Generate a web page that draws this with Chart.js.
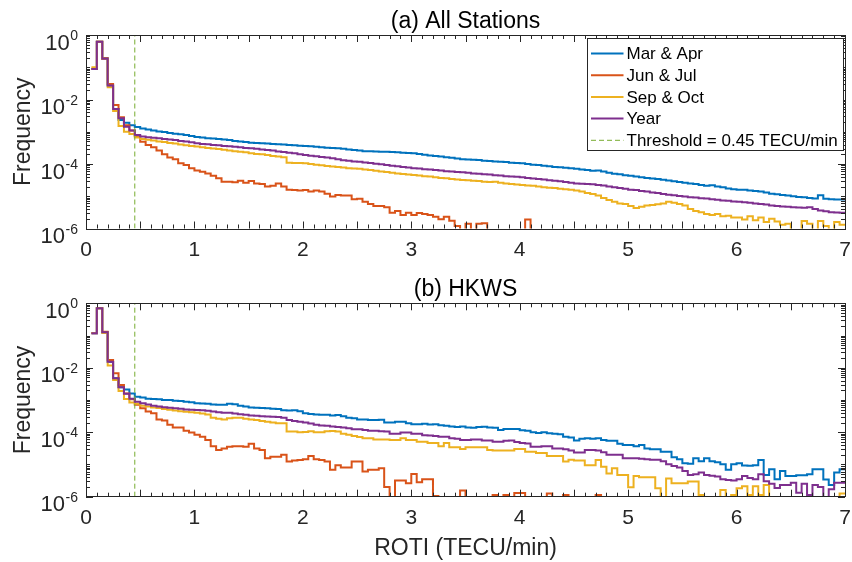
<!DOCTYPE html>
<html>
<head>
<meta charset="utf-8">
<title>ROTI frequency</title>
<script src="https://cdn.jsdelivr.net/npm/chart.js@4"></script>
<style>
  body { margin: 0; background: #fff; }
  #wrap { position: relative; width: 852px; height: 562px; }
  canvas { position: absolute; left: 0; }
</style>
</head>
<body>
<div id="wrap">
  <canvas id="chartA" width="852" height="270" style="top:0"></canvas>
  <canvas id="chartB" width="852" height="292" style="top:270px"></canvas>
</div>
<script>
// histogram bins of 0.05 TECU/min, first bin starts at 0.05, last one ends at 7
const binWidth = 0.05;
const firstEdge = 0.05;
const seriesNames = ['Mar & Apr', 'Jun & Jul', 'Sep & Oct', 'Year'];
const seriesColors = ['#0072BD', '#D95319', '#EDB120', '#7E2F8E'];
const threshold = 0.45;
const yTickExponents = [0, -2, -4, -6];
const xTickLabels = [0, 1, 2, 3, 4, 5, 6, 7];

// (a) All Stations
const allMarApr = [0.089, 0.62, 0.19, 0.027, 0.0051, 0.0023, 0.0019, 0.0016, 0.0014,
  1.26e-3, 1.17e-3, 1.1e-3, 1.02e-3, 9.8e-4, 9.1e-4, 8.7e-4, 8.3e-4, 7.9e-4, 7.4e-4,
  6.9e-4, 6.6e-4, 6.3e-4, 6.2e-4, 6.0e-4, 5.8e-4, 5.5e-4, 5.2e-4, 5.0e-4, 4.8e-4,
  4.6e-4, 4.5e-4, 4.4e-4, 4.3e-4, 4.2e-4, 4.1e-4, 4.0e-4, 3.9e-4, 3.8e-4, 3.7e-4,
  3.6e-4, 3.55e-4, 3.4e-4, 3.3e-4, 3.2e-4, 3.15e-4, 3.1e-4, 2.95e-4, 2.8e-4, 2.7e-4,
  2.6e-4, 2.5e-4, 2.5e-4, 2.45e-4, 2.4e-4, 2.4e-4, 2.35e-4, 2.3e-4, 2.25e-4, 2.2e-4,
  2.15e-4, 2.05e-4, 1.95e-4, 1.85e-4, 1.78e-4, 1.7e-4, 1.62e-4, 1.55e-4, 1.48e-4, 1.41e-4,
  1.38e-4, 1.35e-4, 1.32e-4, 1.26e-4, 1.23e-4, 1.2e-4, 1.17e-4, 1.15e-4, 1.1e-4, 1.07e-4,
  1.05e-4, 1.0e-4, 9.5e-5, 9.3e-5, 8.9e-5, 8.5e-5, 8.1e-5, 7.9e-5, 7.6e-5, 7.4e-5,
  7.1e-5, 6.8e-5, 6.5e-5, 6.2e-5, 6.3e-5, 5.9e-5, 5.4e-5, 5.0e-5, 4.8e-5, 4.5e-5,
  4.3e-5, 4.1e-5, 3.9e-5, 3.7e-5, 3.55e-5, 3.4e-5, 3.25e-5, 3.1e-5, 2.9e-5, 2.75e-5,
  2.6e-5, 2.5e-5, 2.4e-5, 2.25e-5, 2.1e-5, 2.2e-5, 2.0e-5, 1.9e-5, 1.75e-5, 1.65e-5,
  1.6e-5, 1.6e-5, 1.5e-5, 1.45e-5, 1.4e-5, 1.3e-5, 1.2e-5, 1.15e-5, 1.1e-5, 1.05e-5,
  1.0e-5, 9.5e-6, 9.3e-6, 8.9e-6, 8.5e-6, 1.07e-5, 8.3e-6, 8.1e-6, 7.9e-6, 7.9e-6];
const allJunJul = [0.09, 0.62, 0.19, 0.030, 0.0068, 0.0028, 0.0016, 0.0011, 0.00074,
  4.9e-4, 3.9e-4, 3.3e-4, 2.6e-4, 2.0e-4, 1.6e-4, 1.4e-4, 1.05e-4, 9.3e-5, 7.4e-5,
  6.3e-5, 5.8e-5, 5.1e-5, 4.3e-5, 3.6e-5, 2.8e-5, 2.8e-5, 2.7e-5, 3.0e-5, 2.6e-5,
  2.95e-5, 2.5e-5, 2.4e-5, 2.0e-5, 2.1e-5, 2.5e-5, 2.0e-5, 1.6e-5, 1.55e-5, 1.5e-5,
  1.55e-5, 1.4e-5, 1.5e-5, 1.4e-5, 1.2e-5, 9.8e-6, 1.1e-5, 1.05e-5, 1.05e-5, 8.1e-6,
  8.3e-6, 6.8e-6, 5.8e-6, 5.0e-6, 5.0e-6, 4.6e-6, 3.1e-6, 3.5e-6, 2.6e-6, 3.1e-6,
  2.6e-6, 3.0e-6, 2.8e-6, 2.6e-6, 2.3e-6, 1.95e-6, 2.3e-6, 1.74e-6, 1.2e-6, 0,
  1.4e-6, 0, 1.4e-6, 1.45e-6, 0, 0, 0, 0, 0, 0,
  0, 1.9e-6, 0, 0, 0, 0, 0, 0, 0, 0,
  0, 0, 0, 0, 0, 0, 0, 0, 0, 0,
  0, 0, 0, 0, 0, 0, 0, 0, 0, 0,
  0, 0, 0, 0, 0, 0, 0, 0, 0, 0,
  0, 0, 0, 0, 0, 0, 0, 0, 0, 0,
  0, 0, 0, 0, 0, 0, 0, 0, 0, 0];
const allSepOct = [0.1, 0.62, 0.18, 0.024, 0.0044, 0.0015, 0.001, 0.00085, 0.00066,
  6.0e-4, 5.6e-4, 5.4e-4, 5.0e-4, 4.8e-4, 4.5e-4, 4.3e-4, 4.0e-4, 3.8e-4, 3.6e-4,
  3.5e-4, 3.3e-4, 3.15e-4, 3.0e-4, 2.9e-4, 2.75e-4, 2.6e-4, 2.5e-4, 2.4e-4, 2.3e-4,
  2.15e-4, 2.05e-4, 2.0e-4, 1.9e-4, 1.78e-4, 1.7e-4, 1.62e-4, 1.1e-4, 1.07e-4, 1.07e-4,
  1.05e-4, 1.0e-4, 9.5e-5, 9.1e-5, 8.7e-5, 8.3e-5, 8.1e-5, 7.8e-5, 7.4e-5, 7.2e-5,
  7.1e-5, 6.8e-5, 6.5e-5, 6.2e-5, 5.9e-5, 5.6e-5, 5.4e-5, 5.1e-5, 4.9e-5, 4.7e-5,
  4.6e-5, 4.4e-5, 4.2e-5, 4.1e-5, 3.9e-5, 3.7e-5, 3.6e-5, 3.45e-5, 3.3e-5, 3.2e-5,
  3.15e-5, 3.0e-5, 2.95e-5, 2.8e-5, 2.75e-5, 2.8e-5, 2.6e-5, 2.5e-5, 2.4e-5, 2.3e-5,
  2.25e-5, 2.15e-5, 2.1e-5, 2.0e-5, 1.9e-5, 1.85e-5, 1.8e-5, 1.7e-5, 1.65e-5, 1.6e-5,
  1.5e-5, 1.4e-5, 1.26e-5, 1.17e-5, 1.05e-5, 8.9e-6, 7.6e-6, 6.8e-6, 6.0e-6, 5.8e-6,
  5.0e-6, 4.3e-6, 4.7e-6, 5.2e-6, 5.4e-6, 5.6e-6, 6.0e-6, 6.8e-6, 6.3e-6, 5.8e-6,
  5.2e-6, 4.0e-6, 3.5e-6, 3.2e-6, 2.8e-6, 2.6e-6, 2.8e-6, 2.4e-6, 2.5e-6, 2.2e-6,
  2.2e-6, 1.9e-6, 2.4e-6, 1.8e-6, 2.2e-6, 1.6e-6, 2.0e-6, 1.65e-6, 1.3e-6, 1.4e-6,
  0, 0, 1.7e-6, 1.4e-6, 0, 1.7e-6, 1.2e-6, 0, 1.6e-6, 1.3e-6];
const allYear = [0.088, 0.62, 0.185, 0.027, 0.0051, 0.0026, 0.00144, 0.0011, 0.00079,
  7.1e-4, 6.8e-4, 6.5e-4, 6.3e-4, 6.0e-4, 5.8e-4, 5.5e-4, 5.2e-4, 5.0e-4, 4.7e-4,
  4.4e-4, 4.2e-4, 4.1e-4, 3.9e-4, 3.8e-4, 3.6e-4, 3.55e-4, 3.4e-4, 3.3e-4, 3.15e-4,
  3.1e-4, 2.95e-4, 2.8e-4, 2.7e-4, 2.6e-4, 2.45e-4, 2.35e-4, 2.25e-4, 2.15e-4, 2.0e-4,
  1.9e-4, 1.8e-4, 1.75e-4, 1.65e-4, 1.6e-4, 1.5e-4, 1.4e-4, 1.3e-4, 1.26e-4, 1.2e-4,
  1.17e-4, 1.12e-4, 1.07e-4, 1.02e-4, 9.8e-5, 9.3e-5, 8.9e-5, 8.5e-5, 8.1e-5, 7.8e-5,
  7.4e-5, 7.2e-5, 6.9e-5, 6.8e-5, 6.5e-5, 6.3e-5, 6.0e-5, 5.9e-5, 5.6e-5, 5.5e-5,
  5.4e-5, 5.1e-5, 5.0e-5, 4.8e-5, 4.7e-5, 4.5e-5, 4.4e-5, 4.2e-5, 4.1e-5, 4.0e-5,
  3.9e-5, 3.7e-5, 3.55e-5, 3.45e-5, 3.3e-5, 3.15e-5, 3.0e-5, 2.9e-5, 2.75e-5, 2.6e-5,
  2.5e-5, 2.45e-5, 2.4e-5, 2.35e-5, 2.25e-5, 2.15e-5, 2.0e-5, 1.9e-5, 1.8e-5, 1.7e-5,
  1.6e-5, 1.55e-5, 1.45e-5, 1.4e-5, 1.3e-5, 1.26e-5, 1.17e-5, 1.12e-5, 1.07e-5, 1.02e-5,
  9.8e-6, 9.3e-6, 9.1e-6, 8.7e-6, 8.5e-6, 8.1e-6, 7.8e-6, 7.4e-6, 7.2e-6, 6.9e-6,
  6.8e-6, 6.5e-6, 6.3e-6, 6.0e-6, 5.8e-6, 5.5e-6, 5.2e-6, 5.0e-6, 4.8e-6, 4.7e-6,
  4.6e-6, 4.5e-6, 4.4e-6, 4.6e-6, 4.0e-6, 3.6e-6, 3.4e-6, 3.2e-6, 3.15e-6, 3.1e-6];

// (b) HKWS
const hkMarApr = [0.117, 0.7, 0.126, 0.0155, 0.0047, 0.0025, 0.0021, 0.0016, 0.00126,
  1.2e-3, 1.1e-3, 1.07e-3, 1.05e-3, 1.0e-3, 1.0e-3, 9.5e-4, 9.3e-4, 8.9e-4, 8.5e-4,
  7.9e-4, 7.8e-4, 7.6e-4, 7.2e-4, 7.1e-4, 7.1e-4, 7.6e-4, 7.4e-4, 6.6e-4, 6.3e-4,
  5.9e-4, 5.75e-4, 5.6e-4, 5.5e-4, 5.4e-4, 5.25e-4, 4.8e-4, 4.7e-4, 4.8e-4, 4.5e-4,
  3.9e-4, 3.7e-4, 3.55e-4, 3.5e-4, 3.5e-4, 3.3e-4, 3.4e-4, 3.15e-4, 2.8e-4, 2.7e-4,
  2.5e-4, 2.5e-4, 2.4e-4, 2.4e-4, 2.45e-4, 2.0e-4, 2.0e-4, 2.1e-4, 2.1e-4, 1.9e-4,
  1.78e-4, 1.78e-4, 1.82e-4, 1.74e-4, 1.78e-4, 1.66e-4, 1.58e-4, 1.5e-4, 1.45e-4, 1.5e-4,
  1.4e-4, 1.38e-4, 1.45e-4, 1.48e-4, 1.4e-4, 1.38e-4, 1.17e-4, 1.26e-4, 1.26e-4, 1.26e-4,
  1.15e-4, 1.12e-4, 1.0e-4, 9.5e-5, 1.0e-4, 9.3e-5, 8.9e-5, 8.7e-5, 7.2e-5, 6.9e-5,
  5.5e-5, 6.3e-5, 6.5e-5, 6.3e-5, 6.5e-5, 5.75e-5, 5.4e-5, 5.4e-5, 4.4e-5, 4.0e-5,
  4.0e-5, 3.7e-5, 4.0e-5, 3.15e-5, 2.95e-5, 2.95e-5, 2.5e-5, 2.5e-5, 1.66e-5, 1.45e-5,
  1.1e-5, 1.05e-5, 1.55e-5, 1.26e-5, 1.55e-5, 1.26e-5, 1.17e-5, 1.02e-5, 6.8e-6, 1.02e-5,
  1.1e-5, 9.3e-6, 9.1e-6, 9.5e-6, 1.38e-5, 4.7e-6, 7.1e-6, 3.5e-6, 6.3e-6, 4.4e-6,
  4.4e-6, 4.6e-6, 4.6e-6, 5.0e-6, 7.1e-6, 7.1e-6, 3.4e-6, 2.3e-6, 5.6e-6, 7.1e-6];
const hkJunJul = [0.117, 0.7, 0.13, 0.0174, 0.0068, 0.0029, 0.0016, 0.00105, 0.00071,
  5.5e-4, 4.4e-4, 3.9e-4, 2.5e-4, 2.3e-4, 1.7e-4, 1.41e-4, 1.41e-4, 1.12e-4, 9.8e-5,
  8.3e-5, 7.2e-5, 5.75e-5, 3.7e-5, 2.8e-5, 3.15e-5, 3.55e-5, 3.7e-5, 3.7e-5, 3.55e-5,
  4.4e-5, 3.15e-5, 2.8e-5, 1.55e-5, 1.74e-5, 1.74e-5, 2.0e-5, 1.23e-5, 1.32e-5, 1.38e-5,
  1.45e-5, 1.82e-5, 1.45e-5, 1.38e-5, 1.23e-5, 6.8e-6, 9.5e-6, 8.1e-6, 8.1e-6, 1.23e-5,
  1.23e-5, 6.0e-6, 6.8e-6, 6.8e-6, 7.6e-6, 2.0e-6, 0, 3.2e-6, 3.2e-6, 2.6e-6,
  5.1e-6, 2.8e-6, 3.5e-6, 3.5e-6, 1.05e-6, 0, 0, 0, 0, 1.55e-6,
  0, 0, 0, 0, 0, 1.12e-6, 0, 1.12e-6, 0, 1.3e-6,
  1.3e-6, 0, 0, 0, 0, 1.26e-6, 0, 0, 1.12e-6, 0,
  0, 0, 0, 0, 1.12e-6, 0, 0, 0, 0, 0,
  0, 0, 0, 0, 0, 0, 0, 0, 0, 0,
  0, 0, 0, 0, 0, 0, 0, 0, 0, 0,
  0, 0, 0, 0, 0, 0, 0, 0, 0, 0,
  0, 0, 0, 0, 0, 0, 0, 0, 0, 0];
const hkSepOct = [0.12, 0.7, 0.12, 0.0117, 0.0042, 0.0019, 0.00107, 0.00083, 0.00076,
  6.6e-4, 6.3e-4, 5.9e-4, 5.6e-4, 5.25e-4, 5.0e-4, 4.7e-4, 4.5e-4, 4.3e-4, 4.2e-4,
  4.0e-4, 3.8e-4, 3.55e-4, 2.8e-4, 2.6e-4, 2.5e-4, 2.7e-4, 2.8e-4, 2.8e-4, 2.6e-4,
  2.5e-4, 2.4e-4, 2.25e-4, 2.1e-4, 2.0e-4, 1.9e-4, 1.9e-4, 1.05e-4, 1.05e-4, 1.0e-4,
  1.02e-4, 1.07e-4, 1.0e-4, 1.0e-4, 1.07e-4, 1.1e-4, 1.05e-4, 8.9e-5, 8.3e-5, 7.6e-5,
  7.1e-5, 6.5e-5, 6.5e-5, 6.0e-5, 6.0e-5, 6.0e-5, 5.75e-5, 5.75e-5, 6.5e-5, 5.75e-5,
  5.75e-5, 5.1e-5, 5.1e-5, 4.6e-5, 4.6e-5, 3.7e-5, 4.6e-5, 3.4e-5, 3.4e-5, 3.0e-5,
  3.4e-5, 3.4e-5, 3.4e-5, 3.4e-5, 2.8e-5, 2.7e-5, 2.7e-5, 2.7e-5, 2.7e-5, 3.0e-5,
  3.0e-5, 2.5e-5, 2.5e-5, 2.25e-5, 2.25e-5, 1.82e-5, 1.82e-5, 1.82e-5, 1.23e-5, 1.41e-5,
  1.32e-5, 1.32e-5, 9.5e-6, 9.5e-6, 1.38e-5, 8.5e-6, 5.25e-6, 7.6e-6, 4.7e-6, 4.7e-6,
  1.95e-6, 4.4e-6, 4.0e-6, 4.0e-6, 4.0e-6, 1.82e-6, 0, 3.7e-6, 2.6e-6, 2.6e-6,
  2.6e-6, 2.95e-6, 2.95e-6, 1.12e-6, 0, 0, 0, 1.62e-6, 0, 1.12e-6,
  1.82e-6, 2.1e-6, 1.12e-6, 2.1e-6, 1.12e-6, 2.3e-6, 0, 0, 0, 0,
  0, 0, 0, 0, 0, 0, 0, 0, 0, 1.26e-6];
const hkYear = [0.117, 0.7, 0.126, 0.0155, 0.0047, 0.0025, 0.00155, 0.0011, 0.00089,
  7.9e-4, 7.2e-4, 6.6e-4, 6.3e-4, 6.0e-4, 5.75e-4, 5.5e-4, 5.4e-4, 5.1e-4, 5.0e-4,
  4.9e-4, 4.8e-4, 4.6e-4, 4.4e-4, 4.2e-4, 4.0e-4, 4.0e-4, 3.8e-4, 3.6e-4, 3.5e-4,
  3.3e-4, 3.25e-4, 3.15e-4, 3.1e-4, 3.0e-4, 2.95e-4, 2.8e-4, 2.4e-4, 2.25e-4, 2.1e-4,
  2.0e-4, 1.86e-4, 1.7e-4, 1.62e-4, 1.58e-4, 1.5e-4, 1.45e-4, 1.41e-4, 1.32e-4, 1.23e-4,
  1.23e-4, 1.17e-4, 1.12e-4, 1.12e-4, 1.07e-4, 1.05e-4, 8.9e-5, 8.9e-5, 9.8e-5, 9.8e-5,
  8.9e-5, 8.9e-5, 8.1e-5, 7.9e-5, 7.6e-5, 7.2e-5, 7.2e-5, 6.5e-5, 6.3e-5, 5.75e-5,
  5.75e-5, 6.0e-5, 5.9e-5, 5.5e-5, 5.5e-5, 5.1e-5, 5.1e-5, 5.4e-5, 5.5e-5, 5.0e-5,
  4.6e-5, 4.5e-5, 3.55e-5, 3.55e-5, 3.7e-5, 3.7e-5, 3.15e-5, 3.15e-5, 2.95e-5, 2.7e-5,
  2.35e-5, 2.35e-5, 2.8e-5, 2.8e-5, 2.7e-5, 2.4e-5, 2.0e-5, 2.0e-5, 2.0e-5, 1.55e-5,
  1.55e-5, 1.55e-5, 1.5e-5, 1.45e-5, 1.4e-5, 1.4e-5, 1.26e-5, 1.02e-5, 8.9e-6, 8.1e-6,
  6.3e-6, 4.7e-6, 5.0e-6, 5.6e-6, 4.7e-6, 4.5e-6, 4.2e-6, 3.5e-6, 3.3e-6, 3.2e-6,
  3.5e-6, 4.4e-6, 3.8e-6, 3.5e-6, 5.0e-6, 3.0e-6, 2.5e-6, 1.86e-6, 2.3e-6, 2.3e-6,
  2.7e-6, 1.32e-6, 2.5e-6, 1.12e-6, 2.3e-6, 2.0e-6, 0, 1.7e-6, 2.7e-6, 2.7e-6];

const axisColor = '#262626';
const fontFamily = "'Liberation Sans', Arial, Helvetica, sans-serif";
Chart.defaults.font.family = fontFamily;
Chart.defaults.color = axisColor;

// stairs: one point per bin left edge plus the closing edge at 7
// empty bins (0) are pushed far below the axis and get clipped, like MATLAB
function stairs(values) {
  const pts = values.map((v, i) => ({ x: +(firstEdge + i * binWidth).toFixed(2), y: v > 0 ? v : 1e-9 }));
  const last = pts[pts.length - 1];
  pts.push({ x: +(firstEdge + values.length * binWidth).toFixed(2), y: last.y });
  return pts;
}

// box, inward ticks, 10^n labels and the boxed legend
const matlabAxes = {
  id: 'matlabAxes',
  afterDatasetsDraw(chart, args, opts) {
    const { ctx, chartArea: a, scales: { x, y } } = chart;
    ctx.save();
    ctx.strokeStyle = axisColor;
    ctx.lineWidth = 1;
    ctx.beginPath();
    for (let i = 0; i <= 70; i++) {
      const px = Math.round(x.getPixelForValue(i / 10)) + 0.5;
      const len = i % 5 === 0 ? 7 : 4;
      ctx.moveTo(px, a.bottom); ctx.lineTo(px, a.bottom - len);
      ctx.moveTo(px, a.top); ctx.lineTo(px, a.top + len);
    }
    for (let e = -6; e <= 0; e++) {
      for (let m = 1; m <= 9; m++) {
        if (e === 0 && m > 1) break;
        const py = Math.round(y.getPixelForValue(m * Math.pow(10, e))) + 0.5;
        const len = (m === 1 && e % 2 === 0) ? 7 : 4;
        ctx.moveTo(a.left, py); ctx.lineTo(a.left + len, py);
        ctx.moveTo(a.right, py); ctx.lineTo(a.right - len, py);
      }
    }
    ctx.stroke();
    ctx.strokeRect(Math.round(a.left) + 0.5, Math.round(a.top) + 0.5,
      Math.round(a.right - a.left), Math.round(a.bottom - a.top));

    // y tick labels with superscript exponent
    ctx.fillStyle = axisColor;
    ctx.textBaseline = 'alphabetic';
    ctx.textAlign = 'right';
    yTickExponents.forEach(e => {
      const py = y.getPixelForValue(Math.pow(10, e));
      const expText = String(e);
      const expRight = a.left - 8;
      ctx.font = '14px ' + fontFamily;
      ctx.fillText(expText, expRight, py + 5);
      const w = ctx.measureText(expText).width;
      ctx.font = '22px ' + fontFamily;
      ctx.fillText('10', expRight - w - 0.5, py + 14.5);
    });

    if (opts.legend) {
      const bx = Math.round(a.right) - 257.5, by = Math.round(a.top) + 3.5;
      const bw = 256, bh = 112;
      ctx.fillStyle = '#fff';
      ctx.fillRect(bx, by, bw, bh);
      ctx.strokeStyle = axisColor;
      ctx.lineWidth = 1;
      ctx.strokeRect(bx, by, bw, bh);
      ctx.font = '17px ' + fontFamily;
      ctx.textAlign = 'left';
      ctx.textBaseline = 'middle';
      chart.data.datasets.forEach((ds, i) => {
        const cy = by + 15 + i * 21.7;
        ctx.beginPath();
        ctx.strokeStyle = ds.borderColor;
        ctx.lineWidth = ds.borderWidth;
        ctx.setLineDash(ds.borderDash || []);
        ctx.moveTo(bx + 3.5, cy); ctx.lineTo(bx + 36, cy);
        ctx.stroke();
        ctx.setLineDash([]);
        ctx.fillStyle = '#000';
        ctx.fillText(ds.label, bx + 39, cy + 1);
      });
    }
    ctx.restore();
  }
};

function makeChart(id, title, series, opts) {
  const datasets = series.map((vals, i) => ({
    label: seriesNames[i],
    data: stairs(vals),
    borderColor: seriesColors[i],
    backgroundColor: seriesColors[i],
    borderWidth: 2,
    pointRadius: 0,
    stepped: 'before',
    fill: false,
    order: 4 - i
  }));
  datasets.push({
    label: 'Threshold = ' + threshold + ' TECU/min',
    data: [{ x: threshold, y: 1e-6 }, { x: threshold, y: 1 }],
    borderColor: '#77AC30',
    borderWidth: 1,
    borderDash: [5, 3],
    pointRadius: 0,
    fill: false,
    order: 0
  });

  return new Chart(document.getElementById(id), {
    type: 'line',
    data: { datasets },
    plugins: [matlabAxes],
    options: {
      responsive: false,
      animation: false,
      events: [],
      layout: { padding: { left: 0, right: 7, top: 0, bottom: 0 } },
      plugins: {
        legend: { display: false },
        tooltip: { enabled: false },
        title: {
          display: true,
          text: title,
          fullSize: false,
          color: '#000',
          font: { size: 23, weight: 'normal', lineHeight: 1.15 },
          padding: opts.titlePadding
        },
        matlabAxes: { legend: opts.legend }
      },
      scales: {
        x: {
          type: 'linear',
          min: 0,
          max: 7,
          afterBuildTicks: s => { s.ticks = xTickLabels.map(v => ({ value: v })); },
          ticks: { font: { size: 21 }, color: axisColor, padding: 8.8, maxRotation: 0, autoSkip: false },
          grid: { display: false, drawTicks: false },
          border: { display: false },
          title: {
            display: !!opts.xTitle,
            text: opts.xTitle || '',
            color: axisColor,
            font: { size: 23 },
            padding: { top: 0, bottom: 0 }
          },
          afterFit: s => {
            s.height = opts.xHeight;
            s.paddingLeft = 0;
            s.paddingRight = 0;
          }
        },
        y: {
          type: 'logarithmic',
          min: 1e-6,
          max: 1,
          ticks: { display: false },
          grid: { display: false },
          border: { display: false },
          title: {
            display: true,
            text: 'Frequency',
            color: axisColor,
            font: { size: 23 },
            padding: { top: 10, bottom: 0 }
          },
          afterFit: s => { s.width = 86; }
        }
      }
    }
  });
}

// title line height 23 * 1.15 = 26.45
makeChart('chartA', '(a) All Stations', [allMarApr, allJunJul, allSepOct, allYear],
  { legend: true, titlePadding: { top: 8.3, bottom: 0.25 }, xHeight: 41.5 });
makeChart('chartB', '(b) HKWS', [hkMarApr, hkJunJul, hkSepOct, hkYear],
  { legend: false, titlePadding: { top: 6.3, bottom: 0.55 }, xHeight: 65.3, xTitle: 'ROTI (TECU/min)' });
</script>
</body>
</html>
